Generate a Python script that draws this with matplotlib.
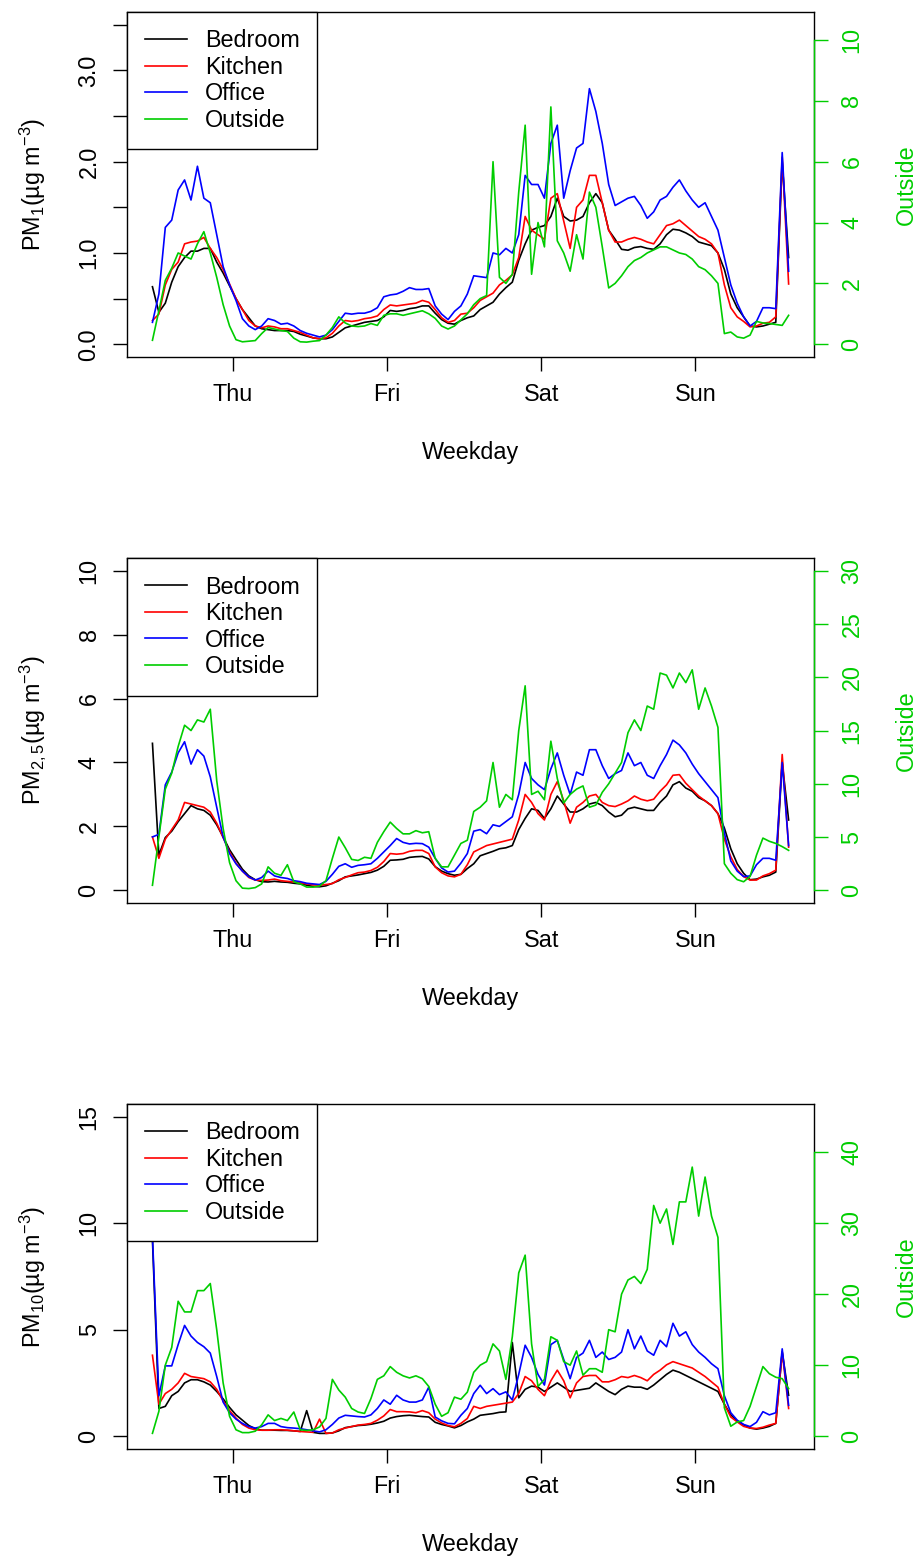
import numpy as np
import matplotlib
matplotlib.use('Agg')
import matplotlib.pyplot as plt

plt.rcParams['font.family'] = ['Liberation Sans', 'DejaVu Sans']
plt.rcParams['mathtext.fontset'] = 'custom'
plt.rcParams['mathtext.rm'] = 'Liberation Sans'
plt.rcParams['mathtext.it'] = 'Liberation Sans:italic'
plt.rcParams['mathtext.default'] = 'regular'

# hourly samples, hours counted from Thursday 00:00
hours = np.arange(-12.5, 87.0, 1.0)
day_ticks = [0, 24, 48, 72]
day_labels = ['Thu', 'Fri', 'Sat', 'Sun']

# ---- PM1 ----
bedroom_pm1 = [0.63, 0.35, 0.45, 0.68, 0.85, 0.95, 1.02, 1.02, 1.05, 1.05,
               0.90, 0.78, 0.64, 0.50, 0.38, 0.29, 0.20, 0.17, 0.16, 0.15,
               0.15, 0.15, 0.14, 0.11, 0.09, 0.07, 0.06, 0.06, 0.08, 0.13,
               0.18, 0.20, 0.22, 0.24, 0.25, 0.26, 0.30, 0.37, 0.36, 0.37,
               0.39, 0.40, 0.42, 0.42, 0.34, 0.27, 0.23, 0.22, 0.26, 0.29,
               0.31, 0.38, 0.42, 0.46, 0.55, 0.62, 0.68, 0.92, 1.10, 1.25,
               1.28, 1.30, 1.40, 1.60, 1.40, 1.35, 1.36, 1.40, 1.55, 1.65,
               1.55, 1.25, 1.15, 1.04, 1.03, 1.06, 1.07, 1.05, 1.04, 1.10,
               1.20, 1.26, 1.25, 1.22, 1.18, 1.12, 1.10, 1.08, 1.00, 0.82,
               0.55, 0.40, 0.30, 0.20, 0.19, 0.20, 0.22, 0.24, 2.00, 0.95]
kitchen_pm1 = [0.26, 0.33, 0.65, 0.82, 0.90, 1.10, 1.12, 1.13, 1.17, 1.05,
               0.95, 0.82, 0.66, 0.50, 0.38, 0.26, 0.20, 0.18, 0.20, 0.19,
               0.17, 0.17, 0.15, 0.13, 0.10, 0.07, 0.06, 0.07, 0.12, 0.20,
               0.26, 0.25, 0.26, 0.28, 0.29, 0.31, 0.38, 0.43, 0.42, 0.43,
               0.44, 0.45, 0.48, 0.46, 0.38, 0.29, 0.24, 0.26, 0.33, 0.34,
               0.40, 0.48, 0.52, 0.56, 0.65, 0.70, 0.76, 0.95, 1.40, 1.25,
               1.20, 1.15, 1.60, 1.65, 1.35, 1.05, 1.50, 1.58, 1.85, 1.85,
               1.55, 1.25, 1.12, 1.12, 1.15, 1.17, 1.15, 1.12, 1.10, 1.20,
               1.30, 1.32, 1.36, 1.30, 1.24, 1.18, 1.15, 1.10, 1.00, 0.65,
               0.40, 0.30, 0.25, 0.19, 0.20, 0.23, 0.24, 0.30, 2.05, 0.66]
office_pm1 = [0.24, 0.55, 1.28, 1.36, 1.69, 1.80, 1.58, 1.95, 1.60, 1.55,
              1.20, 0.85, 0.65, 0.48, 0.28, 0.20, 0.16, 0.20, 0.28, 0.26,
              0.22, 0.23, 0.20, 0.15, 0.12, 0.10, 0.08, 0.10, 0.16, 0.25,
              0.34, 0.33, 0.34, 0.34, 0.36, 0.40, 0.52, 0.54, 0.55, 0.58,
              0.62, 0.60, 0.60, 0.61, 0.42, 0.33, 0.27, 0.36, 0.42, 0.55,
              0.75, 0.74, 0.73, 1.00, 0.98, 1.05, 1.00, 1.20, 1.85, 1.75,
              1.75, 1.60, 2.20, 2.40, 1.60, 1.90, 2.15, 2.20, 2.80, 2.55,
              2.20, 1.75, 1.52, 1.56, 1.60, 1.62, 1.52, 1.38, 1.45, 1.58,
              1.62, 1.72, 1.80, 1.68, 1.58, 1.50, 1.55, 1.40, 1.25, 0.95,
              0.65, 0.45, 0.30, 0.20, 0.25, 0.40, 0.40, 0.39, 2.10, 0.80]
outside_pm1 = [0.13, 1.10, 2.10, 2.50, 3.00, 2.90, 2.80, 3.30, 3.70, 3.00,
               2.20, 1.30, 0.60, 0.15, 0.08, 0.10, 0.12, 0.35, 0.55, 0.50,
               0.45, 0.42, 0.20, 0.08, 0.07, 0.10, 0.12, 0.30, 0.55, 0.90,
               0.70, 0.60, 0.58, 0.60, 0.68, 0.62, 0.95, 1.00, 1.00, 0.95,
               1.00, 1.05, 1.10, 1.00, 0.85, 0.60, 0.50, 0.60, 0.80, 1.00,
               1.30, 1.50, 1.60, 6.00, 2.20, 2.00, 2.30, 5.00, 7.20, 2.30,
               4.00, 3.20, 7.80, 3.40, 3.00, 2.40, 3.60, 2.80, 5.00, 4.50,
               3.20, 1.85, 2.00, 2.25, 2.55, 2.75, 2.85, 3.00, 3.10, 3.20,
               3.20, 3.10, 3.00, 2.95, 2.80, 2.55, 2.45, 2.25, 2.00, 0.35,
               0.40, 0.24, 0.20, 0.30, 0.75, 0.70, 0.68, 0.65, 0.62, 0.95]

# ---- PM2.5 ----
bedroom_pm25 = [4.60, 1.10, 1.65, 1.85, 2.15, 2.40, 2.65, 2.55, 2.50, 2.35,
                2.05, 1.67, 1.27, 0.96, 0.66, 0.45, 0.33, 0.27, 0.26, 0.28,
                0.26, 0.25, 0.22, 0.20, 0.16, 0.12, 0.11, 0.14, 0.22, 0.30,
                0.42, 0.45, 0.48, 0.52, 0.56, 0.63, 0.75, 0.94, 0.95, 0.97,
                1.03, 1.05, 1.06, 0.98, 0.74, 0.60, 0.52, 0.47, 0.50, 0.68,
                0.83, 1.08, 1.15, 1.22, 1.30, 1.33, 1.40, 1.90, 2.25, 2.55,
                2.50, 2.25, 2.55, 2.95, 2.70, 2.45, 2.45, 2.55, 2.70, 2.75,
                2.65, 2.45, 2.30, 2.35, 2.55, 2.60, 2.55, 2.50, 2.50, 2.75,
                2.95, 3.30, 3.40, 3.20, 3.10, 2.90, 2.80, 2.65, 2.40, 1.95,
                1.30, 0.83, 0.53, 0.33, 0.35, 0.42, 0.47, 0.57, 4.00, 2.20]
kitchen_pm25 = [1.67, 1.00, 1.60, 1.90, 2.20, 2.75, 2.70, 2.65, 2.60, 2.45,
                2.10, 1.65, 1.20, 0.85, 0.60, 0.40, 0.32, 0.31, 0.32, 0.35,
                0.30, 0.28, 0.26, 0.23, 0.20, 0.17, 0.16, 0.18, 0.21, 0.33,
                0.40, 0.48, 0.55, 0.57, 0.62, 0.72, 0.90, 1.15, 1.13, 1.15,
                1.22, 1.25, 1.25, 1.15, 0.73, 0.55, 0.45, 0.42, 0.50, 0.80,
                1.20, 1.30, 1.40, 1.45, 1.50, 1.55, 1.60, 2.20, 3.00, 2.75,
                2.40, 2.20, 3.00, 3.40, 2.80, 2.10, 2.60, 2.75, 2.95, 3.00,
                2.75, 2.65, 2.62, 2.70, 2.80, 2.95, 2.85, 2.80, 2.85, 3.10,
                3.30, 3.60, 3.62, 3.35, 3.15, 2.95, 2.80, 2.65, 2.40, 1.60,
                1.05, 0.65, 0.43, 0.32, 0.32, 0.45, 0.52, 0.63, 4.25, 1.35]
office_pm25 = [1.67, 1.75, 3.30, 3.70, 4.30, 4.65, 3.95, 4.40, 4.20, 3.55,
               2.60, 1.67, 1.15, 0.83, 0.60, 0.42, 0.32, 0.40, 0.60, 0.45,
               0.40, 0.37, 0.30, 0.27, 0.22, 0.20, 0.18, 0.28, 0.50, 0.75,
               0.83, 0.72, 0.78, 0.80, 0.83, 1.00, 1.20, 1.40, 1.62, 1.50,
               1.45, 1.47, 1.46, 1.35, 1.00, 0.70, 0.57, 0.60, 0.85, 1.15,
               1.85, 1.90, 1.77, 2.05, 2.00, 2.15, 2.30, 3.00, 4.00, 3.50,
               3.30, 3.15, 3.80, 4.30, 3.60, 3.00, 3.70, 3.60, 4.40, 4.40,
               3.90, 3.50, 3.65, 3.75, 4.30, 3.90, 4.00, 3.60, 3.50, 3.90,
               4.25, 4.70, 4.55, 4.30, 3.95, 3.65, 3.40, 3.15, 2.90, 1.80,
               0.92, 0.60, 0.43, 0.45, 0.80, 1.00, 1.00, 0.94, 4.00, 1.40]
outside_pm25 = [0.47, 5.00, 9.50, 11.00, 13.50, 15.50, 15.00, 16.00, 15.80, 17.00,
                10.30, 5.80, 2.60, 0.90, 0.20, 0.16, 0.25, 0.60, 2.20, 1.60,
                1.40, 2.40, 0.80, 0.60, 0.30, 0.30, 0.40, 0.90, 3.00, 5.00,
                4.00, 2.90, 2.80, 3.10, 3.00, 4.50, 5.50, 6.40, 5.80, 5.30,
                5.30, 5.60, 5.40, 5.50, 3.00, 2.20, 2.20, 3.30, 4.40, 4.70,
                7.40, 7.80, 8.40, 12.00, 7.80, 9.00, 8.50, 15.00, 19.20, 9.00,
                9.30, 8.50, 14.00, 10.50, 8.20, 9.00, 9.50, 9.80, 7.80, 8.00,
                9.20, 10.00, 11.00, 12.00, 14.80, 16.00, 15.00, 17.30, 17.00, 20.40,
                20.20, 19.00, 20.40, 19.50, 20.70, 17.00, 19.00, 17.30, 15.30, 2.50,
                1.60, 1.00, 0.80, 1.30, 3.30, 4.90, 4.60, 4.40, 4.10, 3.75]

# ---- PM10 ----
bedroom_pm10 = [9.20, 1.30, 1.40, 1.90, 2.10, 2.50, 2.65, 2.65, 2.55, 2.40,
                2.10, 1.75, 1.35, 1.00, 0.75, 0.50, 0.35, 0.28, 0.28, 0.28,
                0.27, 0.27, 0.25, 0.22, 1.20, 0.18, 0.13, 0.13, 0.15, 0.25,
                0.40, 0.45, 0.50, 0.52, 0.56, 0.62, 0.70, 0.85, 0.92, 0.96,
                0.98, 0.95, 0.92, 0.90, 0.65, 0.55, 0.48, 0.39, 0.50, 0.67,
                0.80, 0.98, 1.02, 1.06, 1.12, 1.14, 4.40, 1.80, 2.20, 2.35,
                2.30, 2.10, 2.30, 2.50, 2.30, 2.10, 2.15, 2.20, 2.25, 2.50,
                2.30, 2.10, 1.95, 2.20, 2.35, 2.30, 2.30, 2.20, 2.40, 2.65,
                2.90, 3.10, 3.00, 2.85, 2.70, 2.55, 2.40, 2.25, 2.10, 1.50,
                1.00, 0.72, 0.53, 0.38, 0.33, 0.38, 0.46, 0.60, 3.95, 1.92]
kitchen_pm10 = [3.80, 1.50, 2.00, 2.20, 2.50, 2.95, 2.80, 2.75, 2.70, 2.55,
                2.20, 1.65, 1.20, 0.85, 0.55, 0.38, 0.30, 0.28, 0.28, 0.30,
                0.30, 0.28, 0.25, 0.22, 0.20, 0.18, 0.80, 0.13, 0.15, 0.30,
                0.38, 0.45, 0.52, 0.55, 0.60, 0.75, 0.95, 1.25, 1.15, 1.15,
                1.14, 1.10, 1.20, 1.10, 0.80, 0.62, 0.50, 0.44, 0.60, 0.83,
                1.40, 1.30, 1.40, 1.45, 1.50, 1.55, 1.60, 2.00, 2.80, 2.60,
                2.20, 1.90, 2.60, 3.10, 2.60, 1.80, 2.50, 2.80, 2.85, 2.85,
                2.55, 2.55, 2.65, 2.80, 2.75, 2.85, 2.75, 2.60, 2.90, 3.10,
                3.35, 3.50, 3.40, 3.30, 3.20, 3.00, 2.80, 2.55, 2.30, 1.50,
                0.90, 0.67, 0.46, 0.38, 0.36, 0.42, 0.52, 0.60, 3.95, 1.30]
office_pm10 = [9.40, 1.90, 3.30, 3.30, 4.30, 5.20, 4.70, 4.40, 4.20, 3.90,
               2.80, 1.60, 1.10, 0.80, 0.60, 0.45, 0.38, 0.45, 0.60, 0.60,
               0.45, 0.40, 0.38, 0.35, 0.30, 0.25, 0.20, 0.30, 0.55, 0.85,
               0.98, 0.95, 0.92, 0.90, 1.00, 1.30, 1.70, 1.50, 1.92, 1.70,
               1.60, 1.60, 1.70, 2.30, 0.90, 0.72, 0.60, 0.58, 0.98, 1.30,
               2.00, 2.39, 2.00, 2.23, 1.95, 2.08, 1.70, 2.90, 4.27, 3.70,
               2.90, 2.40, 4.30, 4.50, 3.60, 2.70, 3.70, 3.90, 4.50, 3.70,
               3.95, 3.60, 3.70, 3.95, 5.00, 4.10, 4.70, 4.00, 3.80, 4.50,
               4.20, 5.30, 4.70, 4.90, 4.30, 3.95, 3.70, 3.40, 3.17, 1.90,
               1.10, 0.75, 0.55, 0.45, 0.65, 1.15, 1.00, 1.10, 4.10, 1.45]
outside_pm10 = [0.40, 3.50, 10.00, 12.50, 19.00, 17.50, 17.50, 20.50, 20.50, 21.50,
                15.00, 7.50, 2.80, 0.90, 0.50, 0.50, 0.70, 1.60, 3.00, 2.20,
                2.50, 2.20, 3.40, 0.90, 0.80, 0.90, 1.30, 2.50, 8.00, 6.50,
                5.50, 3.90, 3.40, 3.20, 5.30, 8.00, 8.50, 9.80, 9.00, 8.50,
                8.20, 8.50, 8.10, 7.00, 4.50, 2.80, 3.30, 5.50, 5.20, 6.20,
                9.00, 10.00, 10.50, 13.00, 12.00, 8.00, 14.00, 23.00, 25.50, 13.00,
                7.00, 8.00, 14.00, 13.50, 10.50, 10.00, 12.00, 8.60, 9.50, 9.50,
                9.00, 15.00, 14.70, 20.00, 22.00, 22.50, 21.50, 23.50, 32.50, 30.00,
                32.00, 27.00, 33.00, 33.00, 37.90, 31.00, 36.50, 31.00, 28.00, 4.00,
                1.40, 2.00, 2.20, 4.20, 7.00, 9.80, 8.80, 8.30, 8.10, 6.70]

GREEN = '#00CD00'
FS = 16.8
LW = 1.2

fig = plt.figure(figsize=(9.21, 15.57), dpi=100)


def draw_panel(rect, bedroom, kitchen, office, outside, top, yticks, ylabels,
               top2, yticks2, ylabel):
    ax = fig.add_axes(rect)
    ax.plot(hours, bedroom, color='black', lw=LW, label='Bedroom')
    ax.plot(hours, kitchen, color='red', lw=LW, label='Kitchen')
    ax.plot(hours, office, color='blue', lw=LW, label='Office')
    span = hours[-1] - hours[0]
    ax.set_xlim(hours[0] - 0.04 * span, hours[-1] + 0.04 * span)
    ax.set_ylim(-0.04 * top, 1.04 * top)
    ax.set_xticks(day_ticks, day_labels)
    ax.set_yticks(yticks, ylabels)
    ax.tick_params(direction='out', length=10, width=1, labelsize=FS, pad=9)
    plt.setp(ax.get_yticklabels(), rotation=90, va='center')
    for s in ax.spines.values():
        s.set_linewidth(1.0)
    ax.set_xlabel('Weekday', fontsize=FS)
    ax.xaxis.set_label_coords(0.5, -0.278)
    ax.xaxis.label.set_va('center')
    ax.set_ylabel(ylabel, fontsize=FS)
    ax.yaxis.set_label_coords(-0.137, 0.5)
    ax.yaxis.label.set_va('center')

    ax2 = ax.twinx()
    ax2.plot(hours, outside, color=GREEN, lw=LW, label='Outside')
    ax2.set_ylim(-0.04 * top2, 1.04 * top2)
    ax2.set_yticks(yticks2, [str(v) for v in yticks2])
    ax2.tick_params(direction='out', length=10, width=1, labelsize=FS, pad=9,
                    colors=GREEN)
    plt.setp(ax2.get_yticklabels(), rotation=90, va='center')
    for s in ['left', 'top', 'bottom']:
        ax2.spines[s].set_visible(False)
    ax2.spines['right'].set_color(GREEN)
    ax2.spines['right'].set_linewidth(1.0)
    ax2.spines['right'].set_bounds(0, yticks2[-1])
    ax2.set_ylabel('Outside', fontsize=FS, color=GREEN, rotation=90)
    ax2.yaxis.set_label_coords(1.134, 0.5)
    ax2.yaxis.label.set_va('center')

    handles = ax.get_lines() + ax2.get_lines()
    leg = ax2.legend(handles, [h.get_label() for h in handles], loc='upper left',
                     bbox_to_anchor=(0, 1), borderaxespad=0, fancybox=False,
                     edgecolor='black', framealpha=1, fontsize=FS,
                     handlelength=1.8, handletextpad=0.8, labelspacing=0.15,
                     borderpad=0.75)
    leg.get_frame().set_linewidth(1.0)


draw_panel([0.1379, 0.7707, 0.746, 0.2216], bedroom_pm1, kitchen_pm1, office_pm1,
           outside_pm1, 3.5, [0, 0.5, 1, 1.5, 2, 2.5, 3, 3.5],
           ['0.0', '', '1.0', '', '2.0', '', '3.0', ''],
           10.5, [0, 2, 4, 6, 8, 10], r'PM$_1$(µg m$^{-3}$)')
draw_panel([0.1379, 0.4200, 0.746, 0.2216], bedroom_pm25, kitchen_pm25, office_pm25,
           outside_pm25, 10, [0, 2, 4, 6, 8, 10], ['0', '2', '4', '6', '8', '10'],
           30, [0, 5, 10, 15, 20, 25, 30], r'PM$_{2,5}$(µg m$^{-3}$)')
draw_panel([0.1379, 0.0694, 0.746, 0.2216], bedroom_pm10, kitchen_pm10, office_pm10,
           outside_pm10, 15, [0, 5, 10, 15], ['0', '5', '10', '15'],
           45, [0, 10, 20, 30, 40], r'PM$_{10}$(µg m$^{-3}$)')

fig.savefig('out.png', dpi=100)
